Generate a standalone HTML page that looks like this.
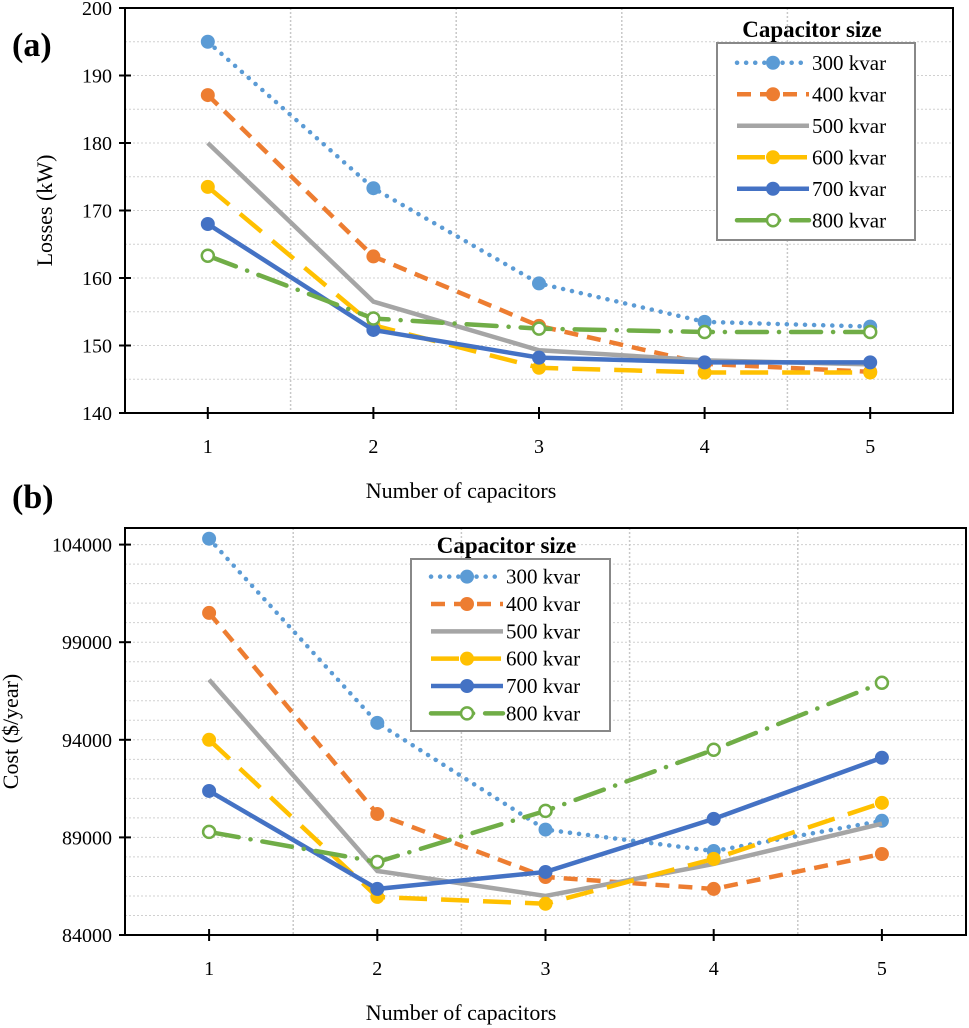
<!DOCTYPE html>
<html><head><meta charset="utf-8">
<style>
html,body{margin:0;padding:0;background:#fff;}
svg{display:block;}
svg text{font-family:"Liberation Serif","DejaVu Serif","Times New Roman",Times,serif;}
</style></head>
<body>
<svg id="svg" width="969" height="1028" viewBox="0 0 969 1028" xmlns="http://www.w3.org/2000/svg"></svg>
<script>
const categories = [1, 2, 3, 4, 5];
const seriesNames = ["300 kvar","400 kvar","500 kvar","600 kvar","700 kvar","800 kvar"];
const lossA300 = [195, 173.3, 159.2, 153.5, 152.8];
const lossA400 = [187.1, 163.2, 152.9, 147.3, 146.1];
const lossA500 = [180, 156.5, 149.3, 147.8, 147.2];
const lossA600 = [173.5, 153, 146.7, 146, 146];
const lossA700 = [168, 152.3, 148.2, 147.5, 147.5];
const lossA800 = [163.3, 154, 152.5, 152, 152];
const costB300 = [104300, 94870, 89400, 88300, 89850];
const costB400 = [100500, 90200, 86970, 86360, 88150];
const costB500 = [97080, 87280, 86000, 87640, 89700];
const costB600 = [94000, 85950, 85600, 87900, 90770];
const costB700 = [91380, 86360, 87230, 89950, 93080];
const costB800 = [89280, 87740, 90360, 93490, 96920];
const ticksA = [140,150,160,170,180,190,200];
const ticksB = [84000,89000,94000,99000,104000];

const NS="http://www.w3.org/2000/svg";
const svg=document.getElementById('svg');
function mk(tag,attrs,parent){const e=document.createElementNS(NS,tag);for(const k in attrs)e.setAttribute(k,attrs[k]);(parent||svg).appendChild(e);return e;}
const styles=[
 {c:"#5B9BD5",dash:"0.1 9",cap:"round",open:false,marker:true},
 {c:"#ED7D31",dash:"14 9",cap:"butt",open:false,marker:true},
 {c:"#A5A5A5",dash:"",cap:"butt",open:false,marker:false},
 {c:"#FFC000",dash:"28 14",cap:"butt",open:false,marker:true},
 {c:"#4472C4",dash:"",cap:"butt",open:false,marker:true},
 {c:"#70AD47",dash:"30 12 0.1 12",cap:"round",open:true,marker:true}
];

function chart(cfg){
 const {L,R,T,B,min,max,minor,ticks,data,id}=cfg;
 const g=mk('g',{});
 
 
 const band=(R-L)/5;
 const xs=i=>L+band*(i+0.5);
 const ys=v=>B-(v-min)/(max-min)*(B-T);
 for(let v=min+minor;v<max;v+=minor){
  const l=mk('line',{x1:L,x2:R,y1:ys(v),y2:ys(v),stroke:"#d0d0d0","stroke-width":1,"stroke-dasharray":"2 2"},g);
  
  
 }
 for(let i=1;i<5;i++){
  const l=mk('line',{x1:L+band*i,x2:L+band*i,y1:T,y2:B,stroke:"#c8c8c8","stroke-width":1.5,"stroke-dasharray":"2 2"},g);
  
  
 }
 const fr=mk('rect',{x:L,y:T,width:R-L,height:B-T,fill:"none",stroke:"#000","stroke-width":2},g);
 
 
 ticks.forEach(t=>{
  mk('line',{x1:L-6,x2:L+6,y1:ys(t),y2:ys(t),stroke:"#000","stroke-width":2},g);
  const tx=mk('text',{x:L-13,y:ys(t)+7,"text-anchor":"end","font-size":20},g);
  tx.textContent=t;
  
  
 });
 categories.forEach((c,i)=>{
  mk('line',{x1:xs(i),x2:xs(i),y1:B-6,y2:B+6,stroke:"#000","stroke-width":2},g);
  const tx=mk('text',{x:xs(i),y:B+40,"text-anchor":"middle","font-size":20},g);
  tx.textContent=c;
  
  
 });
 data.forEach((arr,s)=>{
  const st=styles[s];
  const pts=arr.map((v,i)=>xs(i)+","+ys(v)).join(" ");
  const pl=mk('polyline',{points:pts,fill:"none",stroke:st.c,"stroke-width":4.5,"stroke-dasharray":st.dash,"stroke-linecap":st.cap},g);
  
  
  if(!st.marker)return;
  arr.forEach((v,i)=>{
   const m=mk('circle',{cx:xs(i),cy:ys(v),r:st.open?6:7,fill:st.open?"#fff":st.c,stroke:st.c,"stroke-width":st.open?2.5:0},g);
   
   
  });
 });
 const {lx,ly,lw,lh}=cfg;
 const tt=mk('text',{x:lx+lw/2-4,y:ly-6,"text-anchor":"middle","font-size":23,"font-weight":"bold"},g);
 tt.textContent="Capacitor size";
 
 
 const lb=mk('rect',{x:lx,y:ly,width:lw,height:lh,fill:"#fff",stroke:"#888","stroke-width":2},g);
 
 
 const step=(lh-8)/6;
 seriesNames.forEach((n,s)=>{
  const st=styles[s];const yy=ly+4+step*(s+0.5);
  const le=mk('g',{},g);
  
  
  mk('line',{x1:lx+20,x2:lx+92,y1:yy,y2:yy,stroke:st.c,"stroke-width":4.5,"stroke-dasharray":st.dash,"stroke-linecap":st.cap},le);
  if(st.marker)mk('circle',{cx:lx+56,cy:yy,r:st.open?6:7,fill:st.open?"#fff":st.c,stroke:st.c,"stroke-width":st.open?2.5:0},le);
  const t=mk('text',{x:lx+95,y:yy+7,"font-size":21},le);
  t.textContent=n;
 });
 const xt=mk('text',{x:cfg.xtx,y:cfg.xty,"text-anchor":"middle","font-size":22},g);
 xt.textContent="Number of capacitors";
 
 
 const yt=mk('text',{x:0,y:0,"text-anchor":"middle","font-size":22,transform:`translate(${cfg.ytx},${(T+B)/2}) rotate(-90)`},g);
 yt.textContent=cfg.ytitle;
 
 
 const pl=mk('text',{x:12,y:cfg.plY,"font-size":34,"font-weight":"bold"},g);
 pl.textContent=cfg.panel;
 
 
}
chart({id:"losses",L:125,R:953,T:8,B:413,min:140,max:200,minor:5,ticks:ticksA,
 data:[lossA300,lossA400,lossA500,lossA600,lossA700,lossA800],
 lx:717,ly:43,lw:198,lh:197,xtx:461,xty:498,ytx:52,ytitle:"Losses (kW)",panel:"(a)",plY:56});
chart({id:"cost",L:125,R:966,T:528,B:935,min:84000,max:104850,minor:1000,ticks:ticksB,
 data:[costB300,costB400,costB500,costB600,costB700,costB800],
 lx:411,ly:559,lw:199,lh:172,xtx:461,xty:1020,ytx:18,ytitle:"Cost ($/year)",panel:"(b)",plY:508});
</script>
</body></html>
